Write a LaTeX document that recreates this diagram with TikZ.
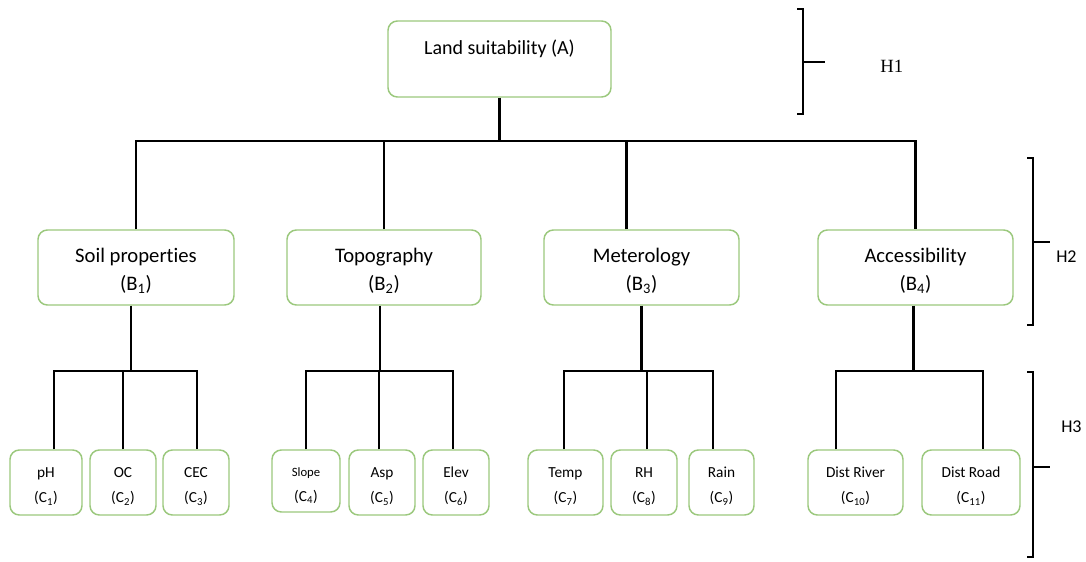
\documentclass[tikz,border=0pt]{standalone}
\usepackage{fontspec}
\setmainfont{Carlito}[Ligatures=NoCommon]
\newfontfamily\hfont{Liberation Serif}
\usetikzlibrary{calc}
\definecolor{boxgreen}{RGB}{155,200,125}
\newcommand\bstrut{\rule{0pt}{16pt}}
\newcommand\cstrut{\rule{0pt}{13.5pt}}
\begin{document}
\begin{tikzpicture}[x=0.75pt,y=-0.75pt,
  box/.style={draw=boxgreen, line width=1.1pt, rounded corners=7pt, inner sep=0pt, align=center},
  abox/.style={box, minimum width=167.25pt, minimum height=57pt, font=\fontsize{15}{18}\selectfont, text height=11pt, text depth=18pt},
  bbox/.style={box, minimum height=56.25pt, font=\fontsize{15.5}{18}\selectfont},
  cbox/.style={box, minimum height=48.75pt, font=\fontsize{11.5}{13}\selectfont},
  conn/.style={draw=black, line width=1.6pt, line join=miter},
  hlab/.style={anchor=west, inner sep=0pt}
]
\useasboundingbox (0,0) rectangle (1086,561);

% level A
\node[abox] (A) at (499.5,59) {Land suitability (A)};

% level B
\node[bbox, minimum width=147pt]    (B1) at (136,267.5)   {\bstrut Soil properties\\[3pt](B\textsubscript{1})};
\node[bbox, minimum width=145.5pt]  (B2) at (384,267.5)   {\bstrut Topography\\[3pt](B\textsubscript{2})};
\node[bbox, minimum width=146.25pt] (B3) at (641.5,267.5) {\bstrut Meterology\\[3pt](B\textsubscript{3})};
\node[bbox, minimum width=146.25pt] (B4) at (915.5,267.5) {\bstrut Accessibility\\[3pt](B\textsubscript{4})};

% level C
\node[cbox, minimum width=54pt]    (C1)  at (46,482.5)    {\cstrut pH\\[6pt](C\textsubscript{1})};
\node[cbox, minimum width=49.5pt]  (C2)  at (123,482.5)   {\cstrut OC\\[6pt](C\textsubscript{2})};
\node[cbox, minimum width=49.5pt]  (C3)  at (196,482.5)   {\cstrut CEC\\[6pt](C\textsubscript{3})};
\node[cbox, minimum width=51pt, minimum height=46.5pt] (C4) at (306,481) {\cstrut{\fontsize{9.5}{11}\selectfont Slope}\\[6pt](C\textsubscript{4})};
\node[cbox, minimum width=49.5pt]  (C5)  at (382,482.5)   {\cstrut Asp\\[6pt](C\textsubscript{5})};
\node[cbox, minimum width=49.5pt]  (C6)  at (456,482.5)   {\cstrut Elev\\[6pt](C\textsubscript{6})};
\node[cbox, minimum width=56.25pt] (C7)  at (565.5,482.5) {\cstrut Temp\\[6pt](C\textsubscript{7})};
\node[cbox, minimum width=49.5pt]  (C8)  at (644,482.5)   {\cstrut RH\\[6pt](C\textsubscript{8})};
\node[cbox, minimum width=48.75pt] (C9)  at (721.5,482.5) {\cstrut Rain\\[6pt](C\textsubscript{9})};
\node[cbox, minimum width=71.25pt] (C10) at (855.5,482.5) {\cstrut Dist River\\[6pt](C\textsubscript{10})};
\node[cbox, minimum width=73.5pt]  (C11) at (971,482.5)   {\cstrut Dist Road\\[6pt](C\textsubscript{11})};

% bus levels
\coordinate (L1) at (0,141);
\coordinate (L2) at (0,371);

% drop points
\coordinate (b3t) at ($(B3.north)+(-15,0)$);
\coordinate (b1b) at ($(B1.south)+(-5,0)$);
\coordinate (b2b) at ($(B2.south)+(-4,0)$);
\coordinate (b4b) at ($(B4.south)+(-2,0)$);
\coordinate (c1) at ($(C1.north)+(8,0)$);
\coordinate (c2) at (C2.north);
\coordinate (c3) at ($(C3.north)+(1,0)$);
\coordinate (c4) at (C4.north);
\coordinate (c5) at ($(C5.north)+(-3,0)$);
\coordinate (c6) at ($(C6.north)+(-3,0)$);
\coordinate (c7) at ($(C7.north)+(-1.5,0)$);
\coordinate (c8) at ($(C8.north)+(3,0)$);
\coordinate (c9) at ($(C9.north)+(-8.5,0)$);
\coordinate (c10) at ($(C10.north)+(-19.5,0)$);
\coordinate (c11) at ($(C11.north)+(12,0)$);

% A -> B
\draw[conn] (A.south) -- (A.south |- L1);
\draw[conn] (B1.north) |- (B4.north |- L1) -- (B4.north);
\draw[conn] (B2.north) -- (B2.north |- L1);
\draw[conn] (b3t) -- (b3t |- L1);

% B -> C
\draw[conn] (b1b) -- (b1b |- L2);
\draw[conn] (c1) |- (c3 |- L2) -- (c3);
\draw[conn] (c2) -- (c2 |- L2);

\draw[conn] (b2b) -- (b2b |- L2);
\draw[conn] (c4) |- (c6 |- L2) -- (c6);
\draw[conn] (c5) -- (c5 |- L2);

\draw[conn] (B3.south) -- (B3.south |- L2);
\draw[conn] (c7) |- (c9 |- L2) -- (c9);
\draw[conn] (c8) -- (c8 |- L2);

\draw[conn] (b4b) -- (b4b |- L2);
\draw[conn] (c10) |- (c11 |- L2) -- (c11);

% hierarchy brackets
\draw[conn] (797,9) -- (803,9) -- (803,114) -- (797,114);
\draw[conn] (803,62) -- (825,62);
\node[hlab, font=\hfont\fontsize{14}{16}\selectfont] (H1) at (880,66) {H1};

\draw[conn] (1027,158) -- (1033,158) -- (1033,325) -- (1027,325);
\draw[conn] (1033,242) -- (1050,242);
\node[hlab, font=\fontsize{13.5}{16}\selectfont] (H2) at (1056,257) {H2};

\draw[conn] (1027,372) -- (1033,372) -- (1033,557) -- (1027,557);
\draw[conn] (1033,467) -- (1050,467);
\node[hlab, font=\fontsize{13.5}{16}\selectfont] (H3) at (1061,427) {H3};
\end{tikzpicture}
\end{document}
